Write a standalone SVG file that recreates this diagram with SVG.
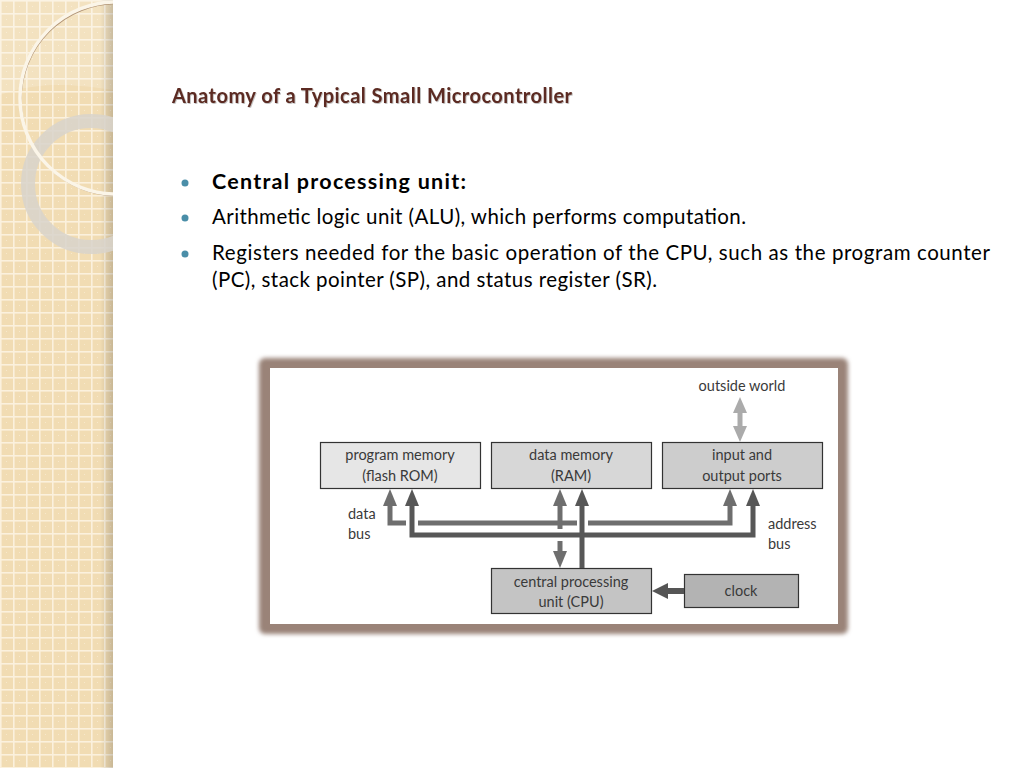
<svg xmlns="http://www.w3.org/2000/svg" width="1024" height="768" viewBox="0 0 1024 768">
<defs>
<pattern id="grid" x="0" y="0" width="13" height="13" patternUnits="userSpaceOnUse">
<rect width="13" height="13" fill="#f1dcb3"/>
<rect x="0" y="0" width="13" height="1.6" fill="#fbf1dd"/>
<rect x="0" y="0" width="1.6" height="13" fill="#fbf1dd"/>
<rect x="6" y="6" width="1" height="1" fill="#f7e8cb"/>
</pattern>
<linearGradient id="edge" x1="0" y1="0" x2="1" y2="0">
<stop offset="0" stop-color="#000" stop-opacity="0"/>
<stop offset="1" stop-color="#000" stop-opacity="0.18"/>
</linearGradient>
<clipPath id="strip"><rect x="0" y="0" width="113" height="768"/></clipPath>
<filter id="blur" x="-5%" y="-5%" width="110%" height="110%"><feGaussianBlur stdDeviation="2.2"/></filter>
<filter id="tsh" x="-5%" y="-20%" width="110%" height="140%"><feDropShadow dx="0.8" dy="0.8" stdDeviation="0.6" flood-color="#000" flood-opacity="0.3"/></filter>
<style>
.lbl{font-family:Lato,"Open Sans","DejaVu Sans",sans-serif;font-size:14.5px;fill:#3a3a3a;text-anchor:middle}
.side{font-family:Lato,"Open Sans","DejaVu Sans",sans-serif;font-size:14.5px;fill:#3a3a3a}
.box{stroke:#333;stroke-width:1.2}
.body{font-family:Lato,"Liberation Sans",sans-serif;font-size:20.5px;fill:#000}
.dbus{stroke:#6e6e6e;stroke-width:5;fill:none}
.abus{stroke:#575757;stroke-width:5;fill:none}
</style>
</defs>
<rect width="1024" height="768" fill="#fff"/>
<!-- left decorative strip -->
<g clip-path="url(#strip)">
<rect x="0" y="0" width="113" height="768" fill="url(#grid)"/>
<path d="M0,0 H113 V90 C80,85 40,80 0,95 Z" fill="#fff" opacity="0.18"/>
<rect x="100" y="0" width="14" height="768" fill="url(#edge)"/>
<circle cx="91" cy="184" r="63" fill="none" stroke="#d8d3cb" stroke-width="14" opacity="0.85"/>
<circle cx="116" cy="98" r="96" fill="none" stroke="#a08060" stroke-width="1.4" opacity="0.8" transform="translate(1,1.5)"/>
<circle cx="116" cy="98" r="96" fill="none" stroke="#fbf5e8" stroke-width="3.5"/>
</g>
<!-- title -->
<text x="172" y="103" font-family="Lato,'Open Sans',sans-serif" font-weight="bold" font-size="20" fill="#5b2b22" textLength="400" lengthAdjust="spacing" filter="url(#tsh)">Anatomy of a Typical Small Microcontroller</text>
<!-- bullets -->
<g fill="#4a8ea8">
<circle cx="185" cy="183" r="3.5"/>
<circle cx="185" cy="218" r="3.5"/>
<circle cx="185" cy="254" r="3.5"/>
</g>
<text class="body" x="212" y="189" font-weight="bold" font-size="21.5" style="font-size:21.5px" textLength="254" lengthAdjust="spacing">Central processing unit:</text>
<text class="body" x="212" y="224" textLength="534" lengthAdjust="spacing">Arithmetic logic unit (ALU), which performs computation.</text>
<text class="body" x="212" y="260" textLength="778" lengthAdjust="spacing">Registers needed for the basic operation of the CPU, such as the program counter</text>
<text class="body" x="212" y="287" textLength="445" lengthAdjust="spacing">(PC), stack pointer (SP), and status register (SR).</text>
<!-- picture frame -->
<rect x="259" y="358" width="589" height="276" rx="6" fill="#9a8378" filter="url(#blur)"/>
<rect x="270" y="368" width="568" height="256" fill="#fff"/>
<!-- nodes -->
<g id="program-memory">
<rect class="box" x="320.5" y="442.5" width="160" height="46" fill="#e6e6e6"/>
<text class="lbl" x="400" y="460">program memory</text>
<text class="lbl" x="400" y="481">(flash ROM)</text>
</g>
<g id="data-memory">
<rect class="box" x="491.5" y="442.5" width="160" height="46" fill="#d7d7d7"/>
<text class="lbl" x="571" y="460">data memory</text>
<text class="lbl" x="571" y="481">(RAM)</text>
</g>
<g id="io-ports">
<rect class="box" x="662.5" y="442.5" width="160" height="46" fill="#cdcdcd"/>
<text class="lbl" x="742" y="460">input and</text>
<text class="lbl" x="742" y="481">output ports</text>
</g>
<g id="cpu">
<rect class="box" x="491.5" y="568.5" width="160" height="45" fill="#c4c4c4"/>
<text class="lbl" x="571" y="587">central processing</text>
<text class="lbl" x="571" y="607">unit (CPU)</text>
</g>
<g id="clock">
<rect class="box" x="684.5" y="574.5" width="114" height="33" fill="#b3b3b3"/>
<text class="lbl" x="741" y="596">clock</text>
</g>
<!-- labels -->
<text class="side" x="348" y="519">data</text>
<text class="side" x="348" y="539">bus</text>
<text class="side" x="768" y="529">address</text>
<text class="side" x="768" y="549">bus</text>
<text class="lbl" x="742" y="391">outside world</text>
<!-- connectors -->
<g id="connectors">
<!-- data bus -->
<path class="dbus" d="M390,504 V523 H406"/>
<path class="dbus" d="M418,523 H577"/>
<path class="dbus" d="M588,523 H730 V504"/>
<path class="dbus" d="M560,504 V529"/>
<path class="dbus" d="M560,541 V553"/>
<g fill="#6e6e6e">
<polygon points="383,506 390,489 397,506"/>
<polygon points="553,506 560,489 567,506"/>
<polygon points="723,506 730,489 737,506"/>
<polygon points="553,551 560,568 567,551"/>
</g>
<!-- address bus -->
<path class="abus" d="M412,504 V535 H753 V504"/>
<path class="abus" d="M582,568 V504"/>
<g fill="#575757">
<polygon points="405,506 412,489 419,506"/>
<polygon points="575,506 582,489 589,506"/>
<polygon points="746,506 753,489 760,506"/>
</g>
<!-- outside world -->
<path d="M740,410 V429" stroke="#ababab" stroke-width="5" fill="none"/>
<polygon points="733,413 740,397 747,413" fill="#ababab"/>
<polygon points="733,426 740,442 747,426" fill="#ababab"/>
<!-- clock to cpu -->
<path d="M684,591 H666" stroke="#555" stroke-width="6" fill="none"/>
<polygon points="668,583 652,591 668,599" fill="#555"/>
</g>
</svg>
